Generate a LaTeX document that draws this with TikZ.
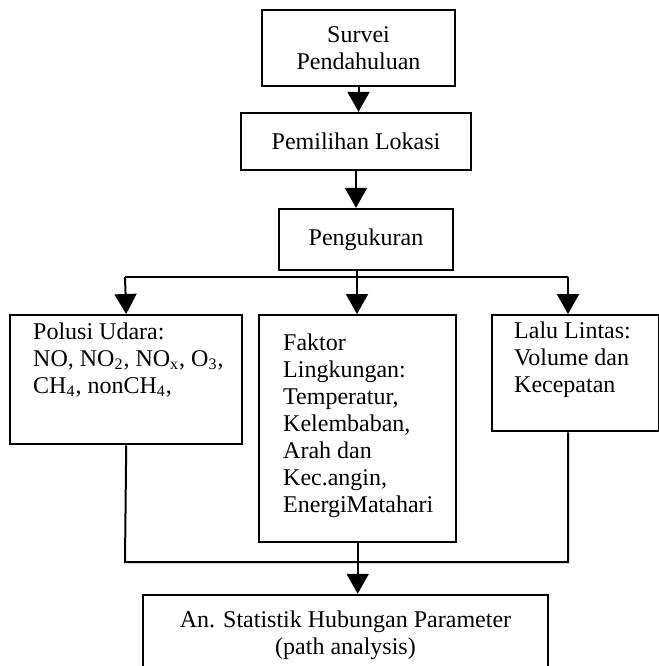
\documentclass[tikz,border=0pt]{standalone}
\usepackage{fontspec}
\setmainfont{Liberation Serif}
\usetikzlibrary{arrows.meta}
\begin{document}
\begin{tikzpicture}[x=0.5pt, y=-0.5pt, font={\fontsize{12}{13.5}\selectfont},
  box/.style={draw, line width=1.2pt, inner sep=0pt, align=center},
  sidebox/.style={draw, line width=1.2pt, anchor=north west, inner sep=0pt, align=flush left},
  arr/.style={line width=1pt, -{Triangle[length=10pt,width=11pt]}},
  link/.style={line width=1pt}]
\useasboundingbox (0,0) rectangle (659,666);
\node[box, minimum width=96.5pt, minimum height=38pt] (survei) at (358.5,48) {Survei\\Pendahuluan};
\node[box, minimum width=115pt, minimum height=28.5pt] (lokasi) at (356,141.5) {Pemilihan Lokasi};
\node[box, minimum width=87pt, minimum height=30.5pt] (ukur) at (366,239.5) {Pengukuran};

\node[sidebox, text width=116pt, text height=12pt, text depth=52.5pt] (polusi) at (9,314)
  {\leftskip=11.5pt Polusi Udara:\\NO, NO\textsubscript{2}, NO\textsubscript{x}, O\textsubscript{3},\\CH\textsubscript{4}, nonCH\textsubscript{4},\par};
\node[sidebox, text width=98.5pt, text height=17.5pt, text depth=96pt] (faktor) at (258,314)
  {\leftskip=12pt Faktor\\Lingkungan:\\Temperatur,\\Kelembaban,\\Arah dan\\Kec.angin,\\EnergiMatahari\par};
\node[sidebox, text width=83.5pt, text height=11.5pt, text depth=46.5pt] (lalu) at (491,314)
  {\leftskip=11pt Lalu Lintas:\\Volume dan\\Kecepatan\par};

\node[box, minimum width=202.5pt, minimum height=40pt] (stat) at (345.5,635) {An. Statistik Hubungan Parameter\\(path analysis)};

\coordinate (split) at (357,277);
\coordinate (splitL) at (125,277);
\coordinate (splitR) at (568,277);
\coordinate (joinL) at (125,562);
\coordinate (joinR) at (568,562);

\draw[arr] (survei.south) -- (survei.south |- lokasi.north);
\draw[arr] (lokasi.south) -- (lokasi.south |- ukur.north);
\draw[link] (split |- ukur.south) -- (split);
\draw[link] (splitL) -- (splitR);
\draw[arr] (splitL) -- (polusi.north);
\draw[arr] (split) -- (split |- faktor.north);
\draw[arr] (splitR) -- (splitR |- lalu.north);
\draw[link] (polusi.south) -- (joinL) -- (joinR) -- (joinR |- lalu.south);
\draw[arr] (faktor.south) -- (faktor.south |- stat.north);
\end{tikzpicture}
\end{document}
